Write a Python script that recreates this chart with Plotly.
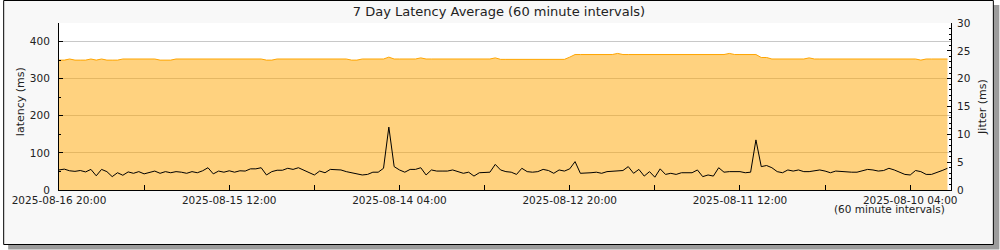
import plotly.graph_objects as go
import pandas as pd

# ---------------- data (newest first, hourly) ----------------
times = pd.date_range("2025-08-09 21:00", "2025-08-16 20:00", freq="h")[::-1]

latency_ms = [
    350, 350, 353, 350, 350, 350, 353, 350, 353, 350, 350, 350,
    353, 353, 353, 353, 353, 353, 353,
    350, 350, 350,
    353, 353, 353, 351, 353,
    353, 353, 353, 353, 353, 353, 353, 353, 353, 353, 353, 353,
    350, 350,
    353, 353, 353, 353, 353, 353, 353, 353, 353, 353, 353, 353, 353, 353,
    350, 350,
    353, 353, 353, 353, 353,
    358,
    353, 353, 353, 353, 353,
    356,
    353, 353, 353, 353, 353, 353, 353, 353, 353, 353, 353, 353, 353,
    356,
    352, 352, 352,
    350,
    352, 352, 352, 352, 352, 352, 352, 352, 352,
    358,
    365, 365, 365, 365, 365, 365, 365, 365,
    368,
    365, 365, 365,
    363,
    365, 365,
    363,
    365, 365, 365,
    363,
    365, 365, 365, 365,
    363, 363, 363,
    365, 365,
    368,
    365, 365, 365, 365, 365,
    357, 357,
    353, 353, 353, 353, 353, 353, 353,
    356,
    353, 353, 353, 353, 353, 353, 353, 353, 353, 353, 353, 353, 353, 353, 353, 353,
    351,
    353, 353, 353,
    350,
    353, 353, 353, 353, 353,
]

jitter_ms = [
    3.6, 3.75, 3.45, 3.35, 3.5, 3.25, 3.7, 2.55, 3.7, 3.3,
    2.4, 3.1, 2.65, 3.25, 3.0, 3.3, 2.9, 3.15, 3.4, 3.0,
    3.3, 3.1, 3.3, 3.2, 3.0, 3.3, 3.1, 3.45, 4.0, 2.9,
    3.4, 3.2, 3.45, 3.2, 3.45, 3.4, 3.8, 3.8, 4.0, 2.7,
    3.3, 3.55, 3.55,
    3.9, 3.7, 4.0, 3.6, 3.2, 2.7, 3.4, 3.1, 3.7, 3.7,
    3.6, 3.3, 3.1, 2.8, 2.7, 2.8, 3.2, 3.2, 3.9, 11.3,
    4.2, 3.6, 3.2, 3.7, 3.7, 4.0, 2.7, 3.6, 3.4, 3.4,
    3.4, 3.6, 3.3, 3.0, 3.2, 2.5, 3.1, 3.2, 3.2, 4.6,
    3.6, 3.3,
    3.2, 2.8, 3.9, 3.3, 3.2, 3.3, 3.7, 3.5, 3.0, 3.6,
    3.4, 3.8, 5.1, 3.0, 3.0, 3.1, 3.2, 3.0, 3.3, 3.4,
    3.5, 3.5, 4.2, 3.0, 3.7, 2.5, 3.3, 2.3, 3.8, 2.8,
    3.0, 2.8, 3.1, 3.1, 3.1, 3.6, 2.4, 2.7, 2.5, 4.0,
    3.2, 3.3,
    3.3, 3.3, 3.1, 3.2, 9.0, 4.2, 4.4, 4.0, 3.3, 3.1,
    3.6, 3.4, 3.6, 3.3, 3.3, 3.4, 3.6, 3.4, 3.1, 3.4,
    3.3, 3.3, 3.2, 3.2, 3.5, 3.7, 3.6, 3.4, 3.5, 3.9,
    3.6, 3.2, 2.8, 2.7, 3.5, 3.3, 2.8, 2.8, 3.1, 3.5,
    3.9,
]

tick_times = ["2025-08-16 20:00", "2025-08-16 04:00", "2025-08-15 12:00", "2025-08-14 20:00",
              "2025-08-14 04:00", "2025-08-13 12:00", "2025-08-12 20:00", "2025-08-12 04:00",
              "2025-08-11 12:00", "2025-08-10 20:00", "2025-08-10 04:00"]
tick_labels = ["2025-08-16 20:00", "", "2025-08-15 12:00", "", "2025-08-14 04:00", "",
               "2025-08-12 20:00", "", "2025-08-11 12:00", "", "2025-08-10 04:00"]

title_text = "7 Day Latency Average (60 minute intervals)"

# ---------------- layout geometry ----------------
W, H = 1000, 250
L, R, T, B = 56, 49, 23, 60
PW, PH = W - L - R, H - T - B

def fx(px):
    return (px - L) / PW

def fy(py):
    return (H - B - py) / PH

FONT = "DejaVu Sans"
TXT = "#222222"

fig = go.Figure()
fig.add_trace(go.Scatter(
    x=times, y=latency_ms, mode="lines", name="latency",
    line=dict(color="#FFA500", width=1), fill="tozeroy",
    fillcolor="rgba(255,165,0,0.5)", yaxis="y", hoverinfo="skip"))
fig.add_trace(go.Scatter(
    x=times, y=jitter_ms, mode="lines", name="jitter",
    line=dict(color="#000000", width=1), yaxis="y2", hoverinfo="skip"))

fig.update_layout(
    width=W, height=H,
    margin=dict(l=L, r=R, t=T, b=B, pad=0),
    paper_bgcolor="white", plot_bgcolor="white",
    showlegend=False,
    font=dict(family=FONT, size=11, color=TXT),
    title=dict(text=title_text, x=0.499, xref="container", xanchor="center",
               y=1 - 11 / H, yref="container", yanchor="middle",
               font=dict(family=FONT, size=13, color=TXT)),
    xaxis=dict(
        type="date", range=["2025-08-16 20:00", "2025-08-09 20:20"],
        tickmode="array", tickvals=tick_times, ticktext=tick_labels,
        ticks="inside", ticklen=5, tickcolor="black", tickwidth=1,
        showline=True, linecolor="black", linewidth=1,
        showgrid=False, zeroline=False,
        tickfont=dict(family=FONT, size=10.5, color=TXT),
    ),
    yaxis=dict(
        range=[0, 450], dtick=100, tick0=0,
        ticks="inside", ticklen=4, tickcolor="black",
        showline=True, linecolor="black", linewidth=1,
        showgrid=True, gridcolor="#c8c8c8", gridwidth=1,
        zeroline=False, ticklabelstandoff=6,
        minor=dict(dtick=50, tick0=0, ticks="inside", ticklen=2, tickcolor="black", showgrid=False),
        tickfont=dict(family=FONT, size=10.5, color=TXT),
    ),
    yaxis2=dict(
        range=[0, 30], dtick=5, tick0=0, overlaying="y", side="right",
        ticks="inside", ticklen=4, tickcolor="black",
        showline=True, linecolor="black", linewidth=1,
        showgrid=False, zeroline=False, ticklabelstandoff=3,
        minor=dict(dtick=1, tick0=0, ticks="inside", ticklen=2, tickcolor="black", showgrid=False),
        tickfont=dict(family=FONT, size=10.5, color=TXT),
    ),
    shapes=[
        dict(type="rect", xref="paper", yref="paper", layer="below",
             x0=fx(5), x1=fx(999.5), y0=fy(249.5), y1=fy(5),
             fillcolor="#9c9c9c", line=dict(width=0)),
        dict(type="rect", xref="paper", yref="paper", layer="below",
             x0=fx(0.5), x1=fx(993.5), y0=fy(244.5), y1=fy(0.5),
             fillcolor="#f8f8f8", line=dict(color="black", width=1)),
        dict(type="rect", xref="paper", yref="paper", layer="below",
             x0=0, x1=1, y0=0, y1=1,
             fillcolor="white", line=dict(width=0)),
    ],
    annotations=[
        dict(text="latency (ms)", textangle=-90, xref="paper", yref="paper",
             x=fx(18), y=fy(102), xanchor="center", yanchor="middle",
             showarrow=False, font=dict(family=FONT, size=11, color=TXT)),
        dict(text="Jitter (ms)", textangle=-90, xref="paper", yref="paper",
             x=fx(982), y=fy(107), xanchor="center", yanchor="middle",
             showarrow=False, font=dict(family=FONT, size=11, color=TXT)),
        dict(text="(60 minute intervals)", xref="paper", yref="paper",
             x=fx(947), y=fy(209), xanchor="right", yanchor="middle",
             showarrow=False, font=dict(family=FONT, size=10.5, color=TXT)),
    ],
)

fig.write_html("out.html")
